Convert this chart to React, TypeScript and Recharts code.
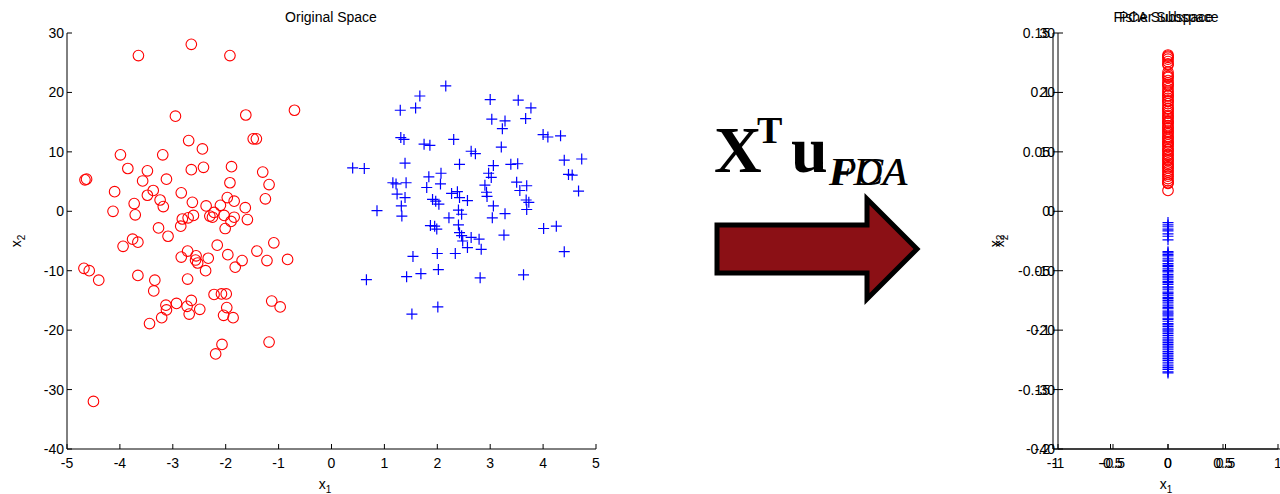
import React from 'react';
import { ScatterChart, Scatter, XAxis, YAxis } from 'recharts';

// ---------- data ----------
const classOneX = [-3.65, -2.65, -1.92, -2.95, -1.62, -0.7, -2.7, -2.44, -1.48, -1.42, -3.99, -3.19, -3.85, -3.48, -2.65, -2.42, -1.89, -1.3, -4.66, -4.63, -3.57, -3.12, -1.92, -1.18, -4.1, -3.37, -2.84, -3.48, -3.24, -3.18, -3.73, -2.63, -2.37, -2.1, -1.97, -1.84, -1.63, -1.25, -4.13, -3.71, -3.27, -3.09, -2.85, -2.82, -2.71, -2.61, -2.3, -2.22, -2.25, -2.03, -2.01, -1.9, -1.84, -1.59, -3.76, -3.66, -3.94, -2.72, -2.16, -2.84, -2.56, -2.57, -2.53, -2.33, -1.96, -1.69, -1.41, -1.22, -1.09, -0.83, -1.82, -2.38, -4.68, -4.58, -4.4, -3.66, -3.34, -3.36, -2.72, -2.22, -2.08, -1.99, -2.65, -2.73, -2.93, -3.13, -3.12, -2.69, -2.49, -1.98, -2.04, -1.86, -3.21, -3.44, -1.13, -0.97, -2.07, -2.19, -1.18, -4.5];
const classOneY = [26.2, 28.1, 26.2, 16.0, 16.2, 17.0, 11.9, 10.5, 12.2, 12.2, 9.5, 9.5, 7.2, 6.8, 7.0, 7.4, 7.5, 6.6, 5.3, 5.4, 5.1, 5.4, 4.8, 4.5, 3.3, 3.5, 3.1, 2.7, 1.9, 0.8, 1.3, 1.5, 0.9, 1.0, 2.3, 1.7, 0.6, 2.1, 0.0, -0.6, -2.8, -4.2, -2.5, -1.3, -1.1, -0.7, -0.8, -0.2, -1.0, -0.7, -2.9, -1.7, -1.0, -1.4, -4.7, -5.2, -5.9, -6.7, -5.7, -7.7, -7.5, -8.2, -8.7, -7.9, -7.3, -8.3, -6.7, -8.3, -5.3, -8.1, -9.4, -10.0, -9.6, -10.0, -11.6, -10.8, -11.6, -13.4, -11.4, -14.0, -13.9, -13.9, -15.0, -16.0, -15.5, -15.8, -16.6, -17.3, -16.5, -16.2, -17.5, -17.9, -17.9, -18.9, -15.1, -16.1, -22.4, -24.0, -22.0, -32.0];

const classTwoX = [2.16, 1.67, 1.3, 1.59, 3.0, 3.53, 3.77, 3.03, 3.28, 3.67, 3.23, 4.0, 4.09, 4.33, 1.31, 1.37, 1.75, 1.86, 2.31, 3.21, 2.64, 2.72, 0.4, 0.62, 1.39, 2.42, 3.06, 3.39, 3.52, 4.4, 4.73, 1.84, 2.07, 2.97, 3.02, 4.48, 4.55, 4.67, 1.16, 1.22, 1.41, 1.8, 2.06, 1.24, 1.39, 2.27, 2.38, 2.42, 2.57, 2.9, 2.93, 2.94, 3.5, 3.69, 3.56, 3.68, 3.73, 3.69, 1.91, 1.97, 2.03, 1.32, 1.33, 0.86, 2.4, 2.46, 3.06, 3.04, 3.28, 2.22, 1.87, 1.95, 1.99, 2.4, 2.42, 2.46, 2.48, 2.64, 2.79, 2.57, 2.83, 3.26, 4.01, 4.25, 4.4, 2.0, 2.34, 1.54, 1.42, 1.69, 2.02, 0.66, 2.81, 3.63, 1.52, 2.01];
const classTwoY = [21.1, 19.4, 17.0, 17.4, 18.8, 18.7, 17.4, 15.5, 15.2, 15.6, 13.9, 12.9, 12.5, 12.7, 12.4, 12.1, 11.3, 11.1, 12.1, 10.8, 10.1, 9.7, 7.3, 7.2, 8.1, 7.9, 7.7, 7.9, 8.0, 8.6, 8.8, 5.8, 6.4, 6.4, 5.7, 6.2, 6.1, 3.4, 4.8, 4.6, 4.8, 4.0, 4.6, 2.9, 2.3, 3.0, 3.3, 2.3, 1.8, 4.4, 3.2, 2.5, 4.9, 4.3, 3.5, 1.9, 1.5, 0.3, 2.0, 1.7, 1.2, 0.9, -0.8, 0.1, 0.2, -0.5, 0.9, -1.1, -0.4, -1.1, -2.4, -2.5, -3.0, -2.3, -3.6, -4.1, -5.0, -4.4, -4.7, -6.1, -6.4, -4.0, -2.9, -2.5, -6.8, -7.1, -7.1, -7.6, -11.0, -10.5, -9.8, -11.5, -11.2, -10.7, -17.3, -16.1];

const fdaClassOne = [26.3, 26.1, 25.9, 25.6, 25.2, 24.8, 24.6, 23.4, 23.0, 22.7, 22.5, 22.0, 21.6, 21.3, 21.1, 20.6, 20.2, 19.9, 19.5, 19.4, 19.0, 18.6, 18.5, 18.1, 17.7, 17.3, 17.2, 16.8, 16.5, 16.1, 15.9, 15.6, 15.2, 15.0, 14.8, 14.4, 14.1, 13.9, 13.5, 13.3, 13.0, 12.6, 12.4, 12.1, 11.7, 11.5, 11.2, 10.9, 10.5, 10.3, 10.0, 9.6, 9.4, 9.0, 8.7, 8.5, 8.1, 7.8, 7.5, 7.3, 6.9, 6.6, 6.2, 5.9, 5.5, 5.1, 4.8, 4.7, 3.5];
const fdaClassTwo = [-1.9, -2.3, -2.6, -3.0, -3.3, -3.8, -4.2, -4.8, -6.8, -7.0, -7.3, -7.5, -7.9, -8.2, -8.4, -8.8, -9.1, -9.3, -9.7, -10.0, -10.2, -10.6, -10.9, -11.1, -11.4, -11.8, -12.0, -12.3, -12.7, -12.9, -13.2, -13.6, -13.8, -14.1, -14.5, -14.7, -15.0, -15.3, -15.6, -15.9, -16.2, -16.4, -16.8, -17.1, -17.3, -17.6, -18.0, -18.2, -18.5, -18.9, -19.1, -19.4, -19.8, -20.0, -20.3, -20.6, -20.9, -21.2, -21.5, -21.8, -22.1, -22.4, -22.7, -23.0, -23.3, -23.6, -23.9, -24.2, -24.5, -24.8, -25.1, -25.4, -25.7, -26.0, -26.3, -26.6, -27.0, -27.2];

const originalXTicks = [-5, -4, -3, -2, -1, 0, 1, 2, 3, 4, 5];
const originalYTicks = [-40, -30, -20, -10, 0, 10, 20, 30];
const subspaceXTicks = [-1, -0.5, 0, 0.5, 1];
const subspaceYTicks = [-40, -30, -20, -10, 0, 10, 20, 30];
const altSubspaceYTicks = [-0.2, -0.15, -0.1, -0.05, 0, 0.05, 0.1, 0.15];

const originalTitle = 'Original Space';
const subspaceTitles = ['Fisher Subspace', 'PCA Subspace'];
const projectionNames = ['FDA', 'PCA'];

// ---------- derived tables ----------
const classOne = classOneX.map((x, i) => ({ x, y: classOneY[i] }));
const classTwo = classTwoX.map((x, i) => ({ x, y: classTwoY[i] }));
const fdaOne = fdaClassOne.map((y) => ({ x: 0, y }));
const fdaTwo = fdaClassTwo.map((y) => ({ x: 0, y }));

// ---------- styling ----------
const FONT = '"Liberation Sans", Arial, Helvetica, sans-serif';
const TICK = 5;
const FS = 14;

const bottomTick = (show: boolean) => (p: any) => (
  <g>
    <line x1={p.x} x2={p.x} y1={p.y} y2={p.y - TICK} stroke="#000" />
    {show && (
      <text x={p.x} y={p.y + 19} textAnchor="middle" fontSize={FS} fontFamily={FONT} fill="#000">
        {String(p.payload.value)}
      </text>
    )}
  </g>
);
const topTick = (p: any) => <line x1={p.x} x2={p.x} y1={p.y} y2={p.y + TICK} stroke="#000" />;
const leftTick = (show: boolean) => (p: any) => (
  <g>
    <line x1={p.x} x2={p.x + TICK} y1={p.y} y2={p.y} stroke="#000" />
    {show && (
      <text x={p.x - 3} y={p.y + 5} textAnchor="end" fontSize={FS} fontFamily={FONT} fill="#000">
        {String(p.payload.value)}
      </text>
    )}
  </g>
);
const rightTick = (p: any) => <line x1={p.x} x2={p.x - TICK} y1={p.y} y2={p.y} stroke="#000" />;

const circleShape = (p: any) => (
  <circle cx={p.cx} cy={p.cy} r={5.3} fill="none" stroke="#FF0000" strokeWidth={1.1} />
);
const plusShape = (p: any) => (
  <path
    d={`M${p.cx - 5.5},${p.cy}H${p.cx + 5.5}M${p.cx},${p.cy - 5.5}V${p.cy + 5.5}`}
    stroke="#0000FF"
    strokeWidth={1.2}
    fill="none"
  />
);
const emptyShape = () => <g />;

const axisCommon = {
  tickSize: 0,
  tickMargin: 0,
  tickLine: false,
  axisLine: { stroke: '#000' },
  interval: 0 as const,
  allowDataOverflow: true,
};

function Frame(props: {
  width: number;
  height: number;
  margin: any;
  yWidth: number;
  xDomain: [number, number];
  yDomain: [number, number];
  xTicks: number[];
  yTicks: number[];
  children?: React.ReactNode;
}) {
  const { width, height, margin, yWidth, xDomain, yDomain, xTicks, yTicks } = props;
  return (
    <ScatterChart width={width} height={height} margin={margin}>
      <XAxis xAxisId="b" type="number" dataKey="x" domain={xDomain} ticks={xTicks} height={45} tick={bottomTick(true)} {...axisCommon} />
      <XAxis xAxisId="t" orientation="top" type="number" dataKey="x" domain={xDomain} ticks={xTicks} height={0} tick={topTick} {...axisCommon} />
      <YAxis yAxisId="l" type="number" dataKey="y" domain={yDomain} ticks={yTicks} width={yWidth} tick={leftTick(true)} {...axisCommon} />
      <YAxis yAxisId="r" orientation="right" type="number" dataKey="y" domain={yDomain} ticks={yTicks} width={0} tick={rightTick} {...axisCommon} />
      {props.children}
      <Scatter data={[]} xAxisId="t" yAxisId="r" shape={emptyShape} isAnimationActive={false} />
    </ScatterChart>
  );
}

const abs = (left: number, top = 0): React.CSSProperties => ({ position: 'absolute', left, top });

export default function App() {
  return (
    <div style={{ position: 'fixed', left: 0, top: 0, width: 1280, height: 494, overflow: 'hidden', background: '#fff' }}>
      {/* Left: Original Space */}
      <div style={abs(0)}>
        <Frame width={620} height={494} margin={{ top: 33, right: 24, bottom: 0, left: 0 }} yWidth={67} xDomain={[-5, 5]} yDomain={[-40, 30]} xTicks={originalXTicks} yTicks={originalYTicks}>
          <Scatter data={classOne} xAxisId="b" yAxisId="l" shape={circleShape} isAnimationActive={false} />
          <Scatter data={classTwo} xAxisId="b" yAxisId="l" shape={plusShape} isAnimationActive={false} />
        </Frame>
      </div>

      {/* Right: second (underlying) axes */}
      <div style={abs(980)}>
        <Frame width={310} height={494} margin={{ top: 33, right: 7, bottom: 0, left: 0 }} yWidth={73} xDomain={[-1, 1]} yDomain={[-0.2, 0.15]} xTicks={subspaceXTicks} yTicks={altSubspaceYTicks} />
      </div>

      {/* Right: projected data */}
      <div style={abs(980)}>
        <Frame width={300} height={494} margin={{ top: 33, right: 2, bottom: 0, left: 0 }} yWidth={78} xDomain={[-1, 1]} yDomain={[-40, 30]} xTicks={subspaceXTicks} yTicks={subspaceYTicks}>
          <Scatter data={fdaOne} xAxisId="b" yAxisId="l" shape={circleShape} isAnimationActive={false} />
          <Scatter data={fdaTwo} xAxisId="b" yAxisId="l" shape={plusShape} isAnimationActive={false} />
        </Frame>
      </div>

      {/* Annotations */}
      <svg width={1280} height={494} style={{ position: 'absolute', left: 0, top: 0, pointerEvents: 'none' }}>
        <g fontFamily={FONT} fill="#000">
          <text x={331} y={22} fontSize={FS} textAnchor="middle">{originalTitle}</text>
          {subspaceTitles.map((t) => (
            <text key={t} x={1166} y={22} fontSize={FS} textAnchor="middle">{t}</text>
          ))}
          <text x={325} y={489} fontSize={FS} textAnchor="middle">
            x<tspan dy={4} fontSize={10}>1</tspan>
          </text>
          <text x={1166} y={489} fontSize={FS} textAnchor="middle">
            x<tspan dy={4} fontSize={10}>1</tspan>
          </text>
          <text x={21} y={241} fontSize={FS} textAnchor="middle" transform="rotate(-90 21 241)">
            x<tspan dy={4} fontSize={10}>2</tspan>
          </text>
          {[1000, 1004].map((lx) => (
            <text key={lx} x={lx} y={241} fontSize={FS} textAnchor="middle" transform={`rotate(-90 ${lx} 241)`}>
              x<tspan dy={4} fontSize={10}>2</tspan>
            </text>
          ))}
        </g>

        {/* projection formula */}
        <g fontFamily='"Liberation Serif", "Times New Roman", serif' fill="#000">
          <text x={714} y={172} fontSize={66} fontWeight="bold">X</text>
          <text x={757} y={143} fontSize={38} fontWeight="bold">T</text>
          <text x={791} y={172} fontSize={66} fontWeight="bold">u</text>
          {projectionNames.map((n, i) => (
            <text key={n} x={829 + i * 3} y={185} fontSize={40} fontStyle="italic">{n}</text>
          ))}
        </g>

        {/* arrow */}
        <polygon
          points="717,225 867,225 867,199 917,249 867,299 867,273 717,273"
          fill="#8B1015"
          stroke="#000"
          strokeWidth={5}
          strokeLinejoin="miter"
        />
      </svg>
    </div>
  );
}
